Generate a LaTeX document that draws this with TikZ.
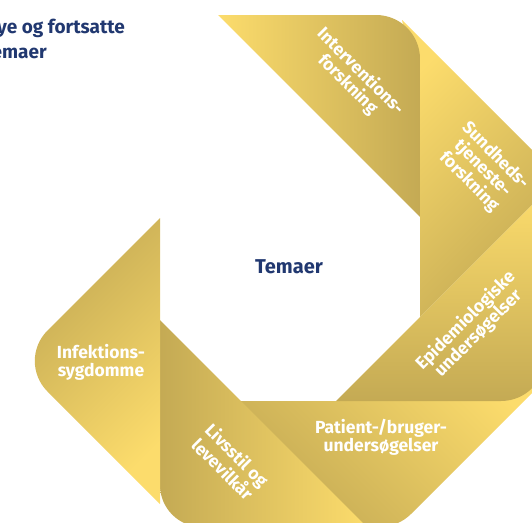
\documentclass[tikz,border=0pt]{standalone}
\usepackage{fontspec}
\setmainfont{Fira Sans}
\definecolor{goldlight}{RGB}{252,220,108}
\definecolor{golddark}{RGB}{196,170,84}
\definecolor{navy}{RGB}{33,56,112}
\newcommand{\theme}[4]{\node[theme,rotate=#3] (#1) at (#2) {#4};}

\begin{document}
\begin{tikzpicture}[x=1pt,y=-1pt,
  theme/.style={text=white,align=center,inner sep=0pt,font=\fontsize{17.5}{18}\selectfont\bfseries},
  heading/.style={text=navy,align=left,inner sep=0pt,font=\fontsize{19}{25}\selectfont\bfseries}]
  \useasboundingbox (0,0) rectangle (532,522);
  \clip (0,0) rectangle (532,522);
  \shade[top color=goldlight,bottom color=golddark,shading angle=45] (402,20) -- (559.5,177.5) -- (420,317) -- (420,110) -- cycle;
  \shade[left color=goldlight,right color=golddark] (218,15) -- (376,15) .. controls (400.3,15) and (420,34.7) .. (420,59) -- (420,217) -- cycle;
  \shade[top color=goldlight,bottom color=golddark,shading angle=-45] (236,401) -- (505,401) -- (552,373) -- (411.1,513.9) .. controls (393.9,531.1) and (366.1,531.1) .. (348.9,513.9) -- cycle;
  \shade[top color=goldlight,bottom color=golddark] (336,401) -- (501,401) .. controls (525.3,401) and (545,381.3) .. (545,357) -- (545,192) -- cycle;
  \shade[left color=golddark,right color=goldlight] (160,320) -- (160,485) .. controls (160,508.2) and (178.8,527) .. (202,527) -- (367,527) -- cycle;
  \shade[top color=golddark,bottom color=goldlight,shading angle=45] (160,218) -- (47.4,330.6) .. controls (30.6,347.4) and (30.6,374.6) .. (47.4,391.4) -- (160,504) -- cycle;
  \theme{interv}{354,78}{-45}{Interventions-\\forskning}
  \theme{sundhed}{482,169}{-45}{Sundheds-\\tjeneste-\\forskning}
  \theme{epidem}{472,327}{45}{Epidemiologiske\\undersøgelser}
  \theme{patient}{381,437}{0}{Patient-/bruger-\\undersøgelser}
  \theme{livsstil}{230,462}{-45}{Livsstil og\\levevilkår}
  \theme{infekt}{101,362}{0}{Infektions-\\sygdomme}
  \node[text=navy,inner sep=0pt,font=\fontsize{20}{24}\selectfont\bfseries] (temaer) at (289,267) {Temaer};
  \node[heading,anchor=north east] (title) at (125,19) {Nye og fortsatte\\temaer};
\end{tikzpicture}
\end{document}
